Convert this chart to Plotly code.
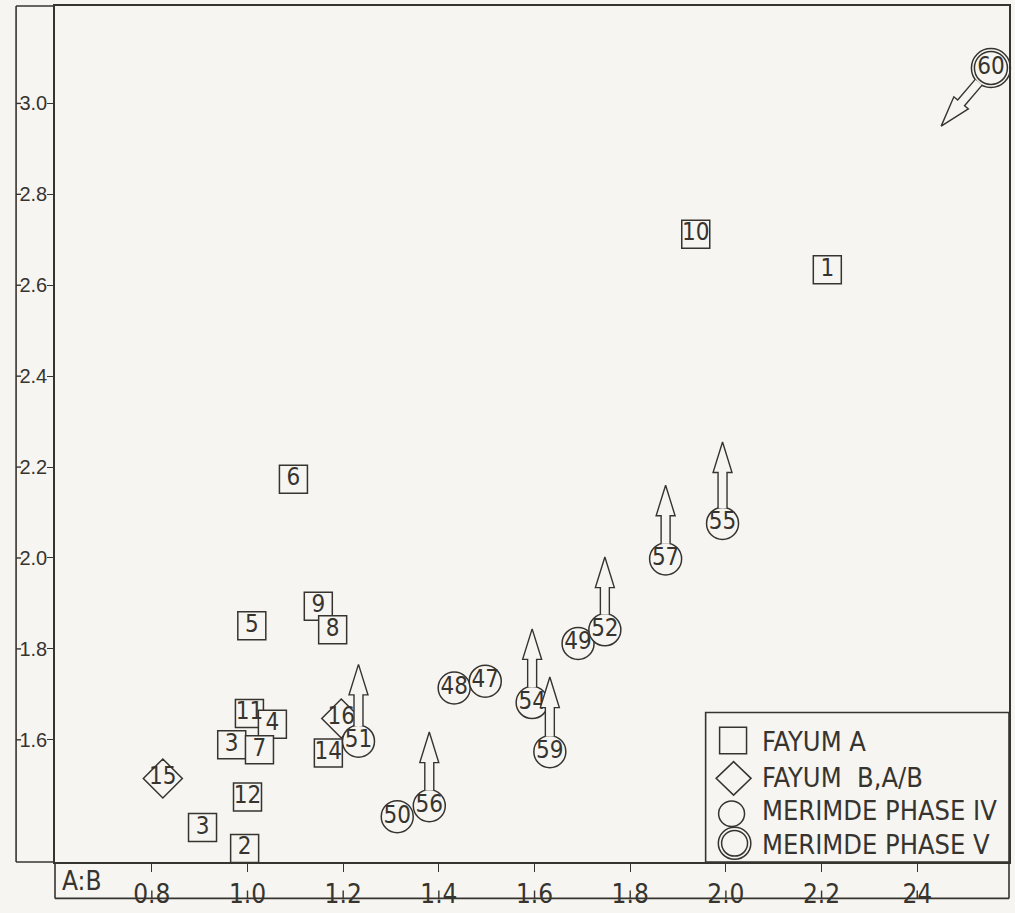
import math
import plotly.graph_objects as go

# ---------------- data ----------------
fayum_a_labels = ['1', '10', '6', '5', '9', '8', '11', '4', '3', '7', '14', '12', '3', '2']
fayum_a_x = [2.212, 1.937, 1.096, 1.009, 1.148, 1.178, 1.004, 1.052, 0.967, 1.025, 1.169, 1.000, 0.906, 0.994]
fayum_a_y = [2.634, 2.712, 2.173, 1.851, 1.894, 1.842, 1.658, 1.634, 1.589, 1.578, 1.571, 1.474, 1.407, 1.361]

fayum_b_labels = ['15', '16']
fayum_b_x = [0.823, 1.196]
fayum_b_y = [1.515, 1.647]

merimde4_labels = ['48', '47', '49', '52', '54', '59', '57', '55', '51', '50', '56']
merimde4_x = [1.432, 1.497, 1.691, 1.747, 1.595, 1.632, 1.874, 1.993, 1.232, 1.313, 1.380]
merimde4_y = [1.714, 1.729, 1.812, 1.842, 1.682, 1.574, 1.998, 2.076, 1.597, 1.431, 1.455]

merimde5_labels = ['60']
merimde5_x = [2.554]
merimde5_y = [3.078]

# arrows: sample label -> arrow tip
arrow_labels = ['52', '54', '59', '57', '55', '51', '56', '60']
arrow_tip_x = [1.747, 1.595, 1.632, 1.874, 1.993, 1.232, 1.380, 2.450]
arrow_tip_y = [2.002, 1.844, 1.738, 2.160, 2.255, 1.766, 1.617, 2.950]

x_tickvals = [0.8, 1.0, 1.2, 1.4, 1.6, 1.8, 2.0, 2.2, 2.4]
x_ticktext = ['0.8', '1.0', '1.2', '1.4', '1.6', '1.8', '2.0', '2.2', '24']
y_tickvals = [1.6, 1.8, 2.0, 2.2, 2.4, 2.6, 2.8, 3.0]
y_ticktext = ['1.6', '1.8', '2.0', '2.2', '2.4', '2.6', '2.8', '3.0']

legend_names = ['FAYUM A', 'FAYUM\u00a0 B,A/B', 'MERIMDE PHASE IV', 'MERIMDE PHASE V']

# ---------------- style / geometry ----------------
W, H = 1015, 913
ML, MR, MT, MB = 55, 4, 4, 39
PW, PH = W - ML - MR, H - MT - MB
XR = [0.5976, 2.5918]
YR = [1.3312, 3.2143]
INK = '#37342f'
BG = '#f6f5f1'
NARROW = 'Liberation Sans Narrow, DejaVu Sans Condensed, Arial Narrow, sans-serif'
COND = 'DejaVu Sans Condensed, Liberation Sans Narrow, DejaVu Sans, sans-serif'

SQ, DIA, CIR, C5O, C5I = 28, 30, 32, 39, 33

sx = PW / (XR[1] - XR[0])
sy = PH / (YR[1] - YR[0])


def to_px(x, y):
    return ML + (x - XR[0]) * sx, MT + PH - (y - YR[0]) * sy


def from_px(px, py):
    return XR[0] + (px - ML) / sx, YR[0] + (MT + PH - py) / sy


def xp(px):
    return (px - ML) / PW


def yp(py):
    return (MT + PH - py) / PH


def arrow_poly(cx, cy, r, tx, ty):
    cpx, cpy = to_px(cx, cy)
    tpx, tpy = to_px(tx, ty)
    dx, dy = tpx - cpx, tpy - cpy
    L = math.hypot(dx, dy)
    dx, dy = dx / L, dy / L
    nx, ny = -dy, dx
    sxp, syp = cpx + dx * (r - 0.5), cpy + dy * (r - 0.5)
    head_len, shaft_hw, head_hw = 31, 4.5, 9.5
    kx, ky = tpx - dx * head_len, tpy - dy * head_len
    pts = [(sxp + nx * shaft_hw, syp + ny * shaft_hw),
           (kx + nx * shaft_hw, ky + ny * shaft_hw),
           (kx + nx * head_hw, ky + ny * head_hw),
           (tpx, tpy),
           (kx - nx * head_hw, ky - ny * head_hw),
           (kx - nx * shaft_hw, ky - ny * shaft_hw),
           (sxp - nx * shaft_hw, syp - ny * shaft_hw)]
    xs, ys = zip(*[from_px(a, b) for a, b in pts])
    return list(xs), list(ys)


fig = go.Figure()

txtfont = dict(family=NARROW, size=24, color=INK)


def add_group(xs, ys, labels, symbol, size, width=1.5, text=True):
    fig.add_trace(go.Scatter(
        x=xs, y=ys, mode='markers+text' if text else 'markers',
        text=labels if text else None, textposition='middle center',
        textfont=txtfont,
        marker=dict(symbol=symbol, size=size, color=BG, line=dict(color=INK, width=width)),
        showlegend=False, hoverinfo='skip', cliponaxis=False))


add_group(fayum_a_x, fayum_a_y, fayum_a_labels, 'square', SQ)
add_group(fayum_b_x, fayum_b_y, fayum_b_labels, 'diamond', DIA)
add_group(merimde4_x, merimde4_y, merimde4_labels, 'circle', CIR)
add_group(merimde5_x, merimde5_y, merimde5_labels, 'circle', C5O, text=False)
add_group(merimde5_x, merimde5_y, merimde5_labels, 'circle', C5I)

# arrows
lookup = {}
for lab, x, y in zip(merimde4_labels, merimde4_x, merimde4_y):
    lookup[lab] = (x, y, CIR / 2)
for lab, x, y in zip(merimde5_labels, merimde5_x, merimde5_y):
    lookup[lab] = (x, y, C5O / 2)
for lab, tx, ty in zip(arrow_labels, arrow_tip_x, arrow_tip_y):
    cx, cy, r = lookup[lab]
    ax, ay = arrow_poly(cx, cy, r, tx, ty)
    fig.add_trace(go.Scatter(x=ax, y=ay, mode='lines', fill='toself', fillcolor=BG,
                             line=dict(color=INK, width=1.4), showlegend=False,
                             hoverinfo='skip', cliponaxis=False))

shapes = []
LW = 1.6
xl = xp(16)
# outer y-band
shapes.append(dict(type='line', xref='paper', yref='paper', x0=xl, x1=xl, y0=0, y1=1, line=dict(color=INK, width=LW)))
shapes.append(dict(type='line', xref='paper', yref='paper', x0=xl, x1=0, y0=1, y1=1, line=dict(color=INK, width=LW)))
shapes.append(dict(type='line', xref='paper', yref='paper', x0=xl, x1=0, y0=0, y1=0, line=dict(color=INK, width=LW)))
for v in y_tickvals:
    shapes.append(dict(type='line', xref='paper', yref='y', x0=xl, x1=xp(21), y0=v, y1=v, line=dict(color=INK, width=1.4)))
# x-band
yb = yp(911)
shapes.append(dict(type='line', xref='paper', yref='paper', x0=0, x1=1, y0=yb, y1=yb, line=dict(color=INK, width=LW)))
shapes.append(dict(type='line', xref='paper', yref='paper', x0=0, x1=0, y0=0, y1=yb, line=dict(color=INK, width=LW)))
shapes.append(dict(type='line', xref='paper', yref='paper', x0=1, x1=1, y0=0, y1=yb, line=dict(color=INK, width=LW)))
for v in x_tickvals:
    shapes.append(dict(type='line', xref='x', yref='paper', x0=v, x1=v, y0=yb, y1=yp(903), line=dict(color=INK, width=1.4)))

# legend box
shapes.append(dict(type='rect', xref='paper', yref='paper', x0=xp(707), x1=1, y0=0, y1=yp(722),
                   line=dict(color=INK, width=LW), fillcolor=BG, layer='below'))
# legend symbols
shapes.append(dict(type='rect', xref='paper', yref='paper', x0=xp(721), x1=xp(748), y0=yp(764), y1=yp(737),
                   line=dict(color=INK, width=1.5)))
dcx, dcy, dhw, dhh = 735, 789, 17.5, 17
shapes.append(dict(type='path', xref='paper', yref='paper',
                   path=f'M {xp(dcx-dhw)} {yp(dcy)} L {xp(dcx)} {yp(dcy-dhh)} L {xp(dcx+dhw)} {yp(dcy)} L {xp(dcx)} {yp(dcy+dhh)} Z',
                   line=dict(color=INK, width=1.5)))
for (ccx, ccy, r) in [(733, 825, 13), (736, 855, 16.3), (736, 855, 13)]:
    shapes.append(dict(type='circle', xref='paper', yref='paper', x0=xp(ccx - r), x1=xp(ccx + r),
                       y0=yp(ccy + r), y1=yp(ccy - r), line=dict(color=INK, width=1.5)))

annotations = []
for name, py in zip(legend_names, [752, 788, 822, 856]):
    annotations.append(dict(text=name, xref='paper', yref='paper', x=xp(761), y=yp(py),
                            xanchor='left', yanchor='middle', showarrow=False,
                            font=dict(family=COND, size=27, color=INK)))
annotations.append(dict(text='A:B', xref='paper', yref='paper', x=xp(82), y=yp(893),
                        xanchor='center', yanchor='middle', showarrow=False,
                        font=dict(family=NARROW, size=26, color=INK)))

fig.update_layout(
    width=W, height=H, margin=dict(l=ML, r=MR, t=MT, b=MB),
    paper_bgcolor=BG, plot_bgcolor=BG,
    showlegend=False, shapes=shapes, annotations=annotations,
    xaxis=dict(range=XR, showgrid=False, zeroline=False, showline=True, mirror=True,
               linecolor=INK, linewidth=LW, ticks='outside', ticklen=8, tickwidth=1.4,
               tickcolor=INK, tickvals=x_tickvals, ticktext=x_ticktext,
               tickfont=dict(family=NARROW, size=26, color=INK)),
    yaxis=dict(range=YR, showgrid=False, zeroline=False, showline=True, mirror=True,
               linecolor=INK, linewidth=LW, ticks='outside', ticklen=6, tickwidth=1.4,
               tickcolor=INK, tickvals=y_tickvals, ticktext=y_ticktext, ticklabelstandoff=-4,
               tickfont=dict(family='Liberation Sans, Arial, sans-serif', size=20, color=INK)),
)

fig.write_html('out.html', config={'displayModeBar': False},
               post_script="document.body.style.margin='0';document.body.style.overflow='hidden';")
